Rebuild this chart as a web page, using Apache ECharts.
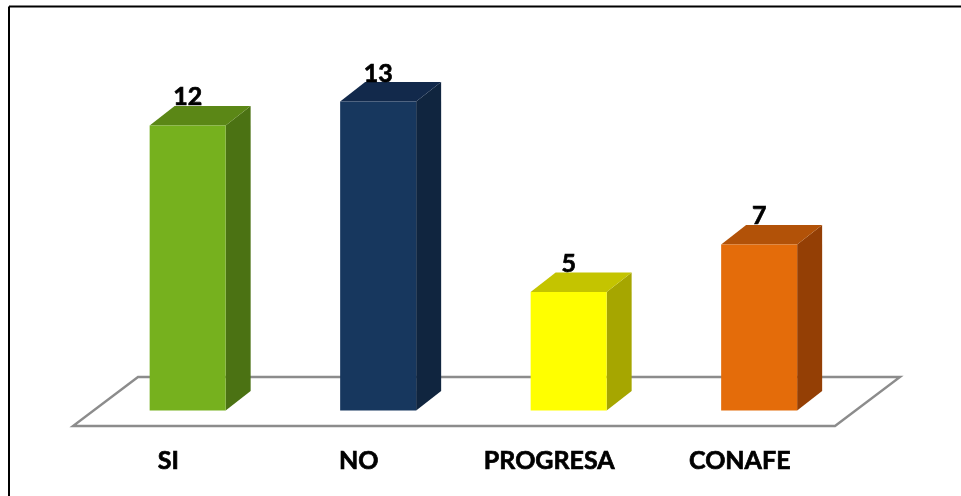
<!DOCTYPE html>
<html>
<head>
<meta charset="utf-8">
<style>html,body{margin:0;padding:0;background:#fff}#c{width:961px;height:496px}</style>
<script src="https://cdn.jsdelivr.net/npm/echarts@6/dist/echarts.min.js"></script>
</head>
<body>
<div id="c"></div>
<script>
const categories = ['SI', 'NO', 'PROGRESA', 'CONAFE'];
const values = [12, 13, 5, 7];
const frontColors = ['#76B11E', '#17375E', '#FFFF00', '#E46C0A'];
const sideColors = ['#4B7213', '#10253F', '#A6A600', '#943F05'];
const topColors = ['#5B8716', '#12294B', '#C4C400', '#B25208'];
const FONT = 'Lato, "Open Sans", sans-serif';

const FLOOR_DX = 65, FLOOR_DY = -49;
const BAR_OFF_X = 19.4, BAR_OFF_Y = -15.5;
const DEPTH_DX = 25, DEPTH_DY = -19.5;
const BAR_W = 76;

function poly(points, fill) {
  return { type: 'polygon', shape: { points: points }, style: { fill: fill } };
}

function renderFloor(params, api) {
  if (params.dataIndex !== 0) return null;
  const band = api.size([1, 0])[0];
  const p0 = api.coord([0, 0]);
  const xL = p0[0] - band / 2, xR = xL + band * categories.length, y = p0[1];
  return {
    type: 'polygon',
    shape: { points: [[xL, y], [xR, y], [xR + FLOOR_DX, y + FLOOR_DY], [xL + FLOOR_DX, y + FLOOR_DY]] },
    style: { fill: '#fff', stroke: '#8c8c8c', lineWidth: 2.4, lineJoin: 'miter' }
  };
}

function renderBar(params, api) {
  const i = api.value(0);
  const base = api.coord([i, 0]);
  const top = api.coord([i, api.value(1)]);
  const x0 = base[0] + BAR_OFF_X - BAR_W / 2, x1 = x0 + BAR_W;
  const yb = base[1] + BAR_OFF_Y, yt = top[1] + BAR_OFF_Y + 0.5;
  return {
    type: 'group',
    children: [
      poly([[x1, yb], [x1 + DEPTH_DX, yb + DEPTH_DY], [x1 + DEPTH_DX, yt + DEPTH_DY], [x1, yt]], sideColors[i]),
      poly([[x0, yt], [x1, yt], [x1 + DEPTH_DX, yt + DEPTH_DY], [x0 + DEPTH_DX, yt + DEPTH_DY]], topColors[i]),
      poly([[x0, yb], [x1, yb], [x1, yt], [x0, yt]], frontColors[i]),
      { type: 'text', z2: 10, style: { x: (x0 + x1) / 2, y: yt - 28, text: String(api.value(1)), fill: '#000', stroke: '#000', lineWidth: 0.7, font: 'bold 25px ' + FONT, align: 'center', verticalAlign: 'middle' } }
    ]
  };
}

const chart = echarts.init(document.getElementById('c'), null, { renderer: 'canvas' });
const rows = values.map((v, i) => [i, v]);
chart.setOption({
  animation: false,
  backgroundColor: '#fff',
  grid: { left: 73, width: 762, top: 45.2, height: 380.8 },
  xAxis: {
    type: 'category', data: categories,
    axisLine: { show: false }, axisTick: { show: false }, splitLine: { show: false },
    axisLabel: { color: '#000', fontFamily: FONT, fontWeight: 'bold', fontSize: 25, margin: 22, interval: 0, textBorderColor: '#000', textBorderWidth: 0.7 }
  },
  yAxis: { type: 'value', min: 0, max: 16, interval: 2, show: false },
  series: [
    { type: 'custom', name: 'floor', data: rows, encode: { x: 0, y: 1 }, renderItem: renderFloor, clip: false, z: 1, silent: true },
    { type: 'custom', name: 'bars', data: rows, encode: { x: 0, y: 1 }, renderItem: renderBar, clip: false, z: 2 }
  ],
  graphic: [
    { type: 'line', shape: { x1: 9, y1: 6.5, x2: 961, y2: 6.5 }, style: { stroke: '#000', lineWidth: 2 } },
    { type: 'line', shape: { x1: 9, y1: 6.5, x2: 9, y2: 496 }, style: { stroke: '#000', lineWidth: 2 } }
  ]
});
</script>
</body>
</html>
